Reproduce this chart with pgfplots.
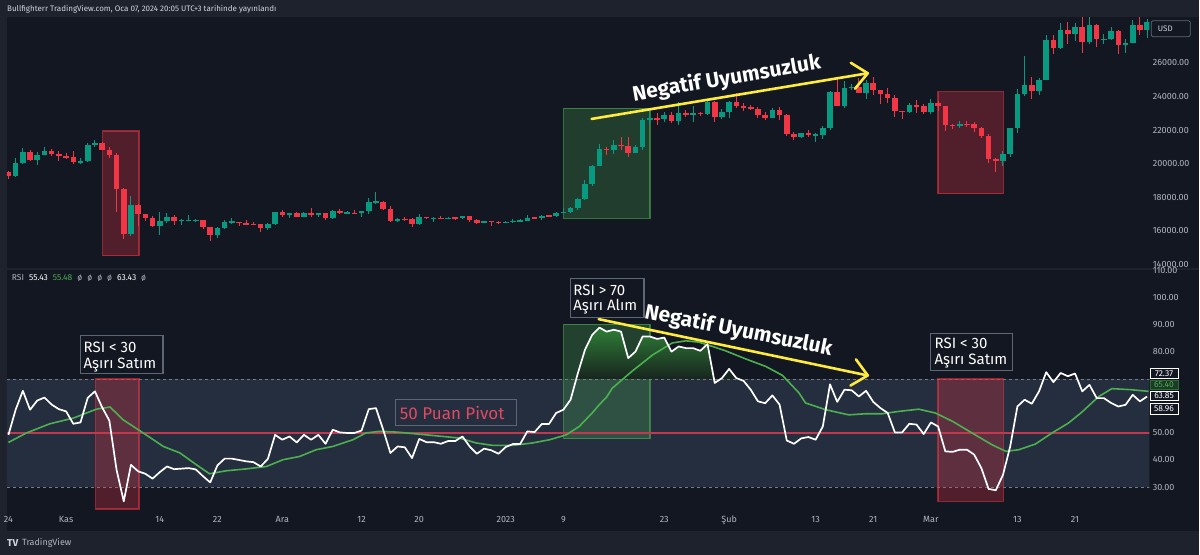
\documentclass[border=0pt]{standalone}
\usepackage{fontspec}
\setmainfont{Fira Sans}
\usepackage{pgfplots}
\usepackage{pgfplotstable}
\pgfplotsset{compat=1.18}

\definecolor{cframe}{HTML}{1E222D}
\definecolor{cbg}{HTML}{131722}
\definecolor{cup}{HTML}{089981}
\definecolor{cdn}{HTML}{F23645}
\definecolor{cband}{HTML}{252E3E}
\definecolor{ctick}{HTML}{B2B5BE}
\definecolor{chdr}{HTML}{D1D4DC}
\definecolor{cma}{HTML}{4CAF50}
\definecolor{cyel}{HTML}{FFEB3B}
\definecolor{cpivot}{HTML}{C2384F}
\definecolor{cboxb}{HTML}{5D6675}
\definecolor{cdash}{HTML}{787B86}
\definecolor{cobtop}{HTML}{2F7D36}
\definecolor{cobbot}{HTML}{17251F}
\definecolor{cpivtxt}{HTML}{E04A63}
\definecolor{cgreenlab}{HTML}{1B3A27}

\pgfplotstableread{
d o h l c
0 19570 19600 19160 19330
1 19330 20400 19260 20080
2 20080 21000 20060 20770
3 20770 20860 20230 20290
4 20290 20740 20000 20600
5 20600 21080 20560 20810
6 20810 20920 20520 20630
7 20630 20830 20240 20490
8 20490 20690 20340 20480
9 20480 20790 20060 20150
10 20150 20380 20050 20210
11 20210 21300 20180 21150
12 21150 21470 21080 21300
13 21300 21370 20890 20900
14 20900 21040 20410 20590
15 20590 20670 17170 18540
16 18540 18590 15590 15880
17 15880 18150 15770 17590
18 17590 17650 16360 17070
19 17070 17080 16660 16810
20 16810 16940 16260 16330
21 16330 17170 15820 16620
22 16620 17100 16550 16900
23 16900 17000 16430 16660
24 16660 16750 16400 16690
25 16690 16980 16620 16700
26 16700 16790 16560 16700
27 16700 16730 16180 16280
28 16280 16290 15480 15780
29 15780 16270 15600 16230
30 16230 16680 16170 16600
31 16600 16800 16470 16600
32 16600 16610 16330 16520
33 16520 16700 16420 16460
34 16460 16590 16400 16440
35 16440 16480 16000 16210
36 16210 16530 16110 16440
37 16440 17200 16430 17170
38 17170 17310 16880 16980
39 16980 17100 16800 17090
40 17090 17150 16880 16890
41 16890 17200 16880 17110
42 17110 17420 16880 16970
43 16970 17100 16910 17090
44 17090 17130 16690 16840
45 16840 17300 16740 17230
46 17230 17350 17060 17130
47 17130 17220 17090 17130
48 17130 17270 17070 17090
49 17090 17240 16880 17210
50 17210 18000 17080 17780
51 17780 18390 17660 17800
52 17800 17850 17280 17360
53 17360 17530 16580 16630
54 16630 16800 16590 16780
55 16780 16860 16660 16740
56 16740 16820 16290 16440
57 16440 17040 16400 16900
58 16900 16910 16740 16820
59 16820 16860 16560 16830
60 16830 16940 16760 16780
61 16780 16860 16770 16840
62 16840 16860 16730 16830
63 16830 16940 16790 16920
64 16920 16960 16610 16700
65 16700 16780 16470 16540
66 16540 16650 16500 16630
67 16630 16650 16330 16600
68 16600 16640 16490 16540
69 16540 16630 16500 16610
70 16610 16760 16550 16670
71 16670 16760 16600 16670
72 16670 16990 16660 16850
73 16850 16880 16750 16830
74 16830 17020 16700 16950
75 16950 16960 16910 16940
76 16940 17150 16910 17120
77 17120 17390 17110 17180
78 17180 17490 17140 17440
79 17440 17990 17310 17940
80 17940 19100 17920 18850
81 18850 19990 18730 19930
82 19930 21260 19900 20950
83 20950 21040 20560 20870
84 20870 21450 20650 21180
85 21180 21620 20880 21130
86 21130 21650 20430 20680
87 20680 21190 20670 21080
88 21080 22750 20860 22680
89 22680 23300 22400 22780
90 22780 23060 22350 22710
91 22710 23140 22540 22930
92 22930 23130 22480 22630
93 22630 23740 22350 23060
94 23060 23260 22850 23010
95 23010 23480 22550 23080
96 23080 23160 22890 23030
97 23030 23930 22980 23740
98 23740 23790 22550 22830
99 22830 23300 22720 23140
100 23140 23800 22780 23730
101 23730 24240 23370 23490
102 23490 23700 23220 23430
103 23430 23560 23270 23330
104 23330 23430 22770 22930
105 22930 23150 22640 22760
106 22760 23360 22750 23260
107 23260 23450 22690 22960
108 22960 22990 21730 21800
109 21800 21920 21480 21630
110 21630 21900 21600 21860
111 21860 22070 21660 21780
112 21780 21890 21370 21790
113 21790 22320 21530 22200
114 22200 24360 22060 24330
115 24330 25250 23520 23520
116 23520 24990 23370 24570
117 24570 24830 24470 24630
118 24630 25180 24280 24280
119 24280 25020 23890 24840
120 24840 25250 24150 24440
121 24440 24460 23620 24190
122 24190 24580 23650 23950
123 23950 24130 22860 23190
124 23190 23210 22720 23160
125 23160 23670 23080 23550
126 23550 23870 23100 23490
127 23490 23590 23030 23150
128 23150 23900 23040 23650
129 23650 23790 23200 23470
130 23470 23480 21980 22360
131 22360 22420 22100 22350
132 22350 22610 22210 22430
133 22430 22590 22260 22410
134 22410 22550 21940 22200
135 22200 22270 21600 21700
136 21700 21830 20090 20360
137 20360 20370 19570 20190
138 20190 20830 19900 20630
139 20630 22190 20460 22160
140 22160 24530 21900 24200
141 24200 26480 24100 24750
142 24750 25230 23930 24380
143 24380 25190 24130 25060
144 25060 27740 25030 27420
145 27420 27720 26620 26970
146 26970 28430 26920 28040
147 28040 28510 27190 27770
148 27770 28470 27380 28180
149 28180 28810 26650 27310
150 27310 28790 27200 28330
151 28330 28400 27020 27480
152 27480 27810 27180 27490
153 27490 28190 27440 27990
154 27990 28040 26610 27140
155 27140 27510 26660 27270
156 27270 28640 27250 28350
157 28350 29170 27720 28030
158 28030 28660 27570 28480
}\candles

\pgfplotstableread{
d r
0 49.3
1 58.6
2 65.6
3 58.6
4 62.0
5 63.1
6 60.5
7 58.8
8 58.0
9 53.4
10 53.9
11 63.0
12 65.4
13 59.5
14 54.6
15 36.4
16 24.7
17 38.2
18 35.8
19 34.9
20 33.1
21 35.5
22 37.6
23 36.6
24 36.8
25 37.0
26 36.5
27 34.0
28 31.7
29 38.0
30 40.5
31 40.5
32 40.0
33 39.5
34 39.2
35 37.6
36 40.4
37 49.3
38 47.5
39 48.7
40 46.5
41 49.3
42 47.5
43 49.3
44 46.0
45 51.2
46 50.2
47 50.0
48 50.0
49 50.9
50 58.8
51 59.2
52 51.2
53 42.6
54 45.0
55 44.7
56 40.7
57 47.8
58 46.6
59 46.6
60 46.0
61 47.0
62 47.0
63 48.7
64 45.0
65 42.3
66 44.2
67 43.6
68 42.3
69 44.8
70 45.9
71 45.9
72 50.6
73 50.3
74 53.3
75 53.3
76 57.4
77 58.6
78 62.3
79 72.0
80 80.8
81 86.3
82 89.0
83 87.5
84 88.2
85 87.5
86 77.7
87 80.1
88 85.7
89 85.7
90 84.8
91 85.3
92 80.1
93 82.0
94 81.4
95 81.4
96 80.4
97 82.9
98 68.5
99 70.3
100 73.7
101 70.3
102 69.3
103 66.0
104 61.7
105 61.0
106 63.9
107 60.5
108 47.2
109 46.0
110 48.0
111 48.5
112 47.5
113 52.4
114 68.0
115 61.5
116 66.0
117 65.8
118 63.5
119 65.6
120 61.5
121 59.2
122 57.4
123 50.2
124 50.2
125 53.4
126 53.1
127 49.6
128 53.9
129 52.4
130 43.2
131 43.0
132 43.8
133 43.8
134 42.0
135 37.0
136 29.3
137 28.8
138 34.5
139 45.0
140 59.8
141 62.3
142 60.8
143 65.4
144 72.5
145 68.8
146 72.2
147 71.0
148 72.0
149 65.4
150 67.8
151 62.9
152 62.9
153 61.1
154 59.8
155 60.4
156 64.1
157 61.7
158 63.5
}\rsi

\pgfplotstableread{
d m
0 46.5
2.5 50.0
5.75 53.4
9 55.5
12.2 58.8
14.1 59.6
15.9 54.9
18.7 50.0
21.5 45.0
23.8 42.6
26.1 38.2
27.9 34.9
30.2 36.0
33 36.7
35.8 37.6
38.1 40.1
40.4 41.3
42.7 43.8
45 45.0
47.8 47.5
49.6 50.0
51.5 50.6
54 50.3
58 49.3
62.6 48.1
64.9 46.3
67.2 45.4
70 45.4
72.7 46.3
75.1 47.5
77.4 49.3
79.2 52.4
81 57.4
82 60.5
83 63.3
83.8 66.6
86.6 73.0
89.4 78.9
92.1 83.3
94 84.1
95.8 83.6
97.7 82.0
99.5 80.4
102.3 77.4
105.1 74.6
107.4 71.3
109.7 64.8
110.6 61.1
113.4 58.6
116.6 56.7
118.9 57.1
121.2 57.1
123.6 58.0
126.3 58.8
128.6 57.4
131 54.3
133.7 50.0
136.5 45.6
138.4 43.2
140.2 43.8
142.5 45.9
144.8 50.0
147.1 53.7
148.9 57.6
150.8 62.3
151.3 63.5
153.1 66.4
155.8 66.0
158.2 65.4
}\rsima

\pgfplotstableread{
d r
78.8 70
79 72.0
80 80.8
81 86.3
82 89.0
83 87.5
84 88.2
85 87.5
86 77.7
87 80.1
88 85.7
89 85.7
90 84.8
91 85.3
92 80.1
93 82.0
94 81.4
95 81.4
96 80.4
97 82.9
97.9 70
}\obA

\pgfplotstableread{
d r
98.9 70
99 70.3
100 73.7
101 70.3
101.3 70
}\obB

\pgfplotsset{
  panel/.style={scale only axis, width=1143pt, xmin=-0.2, xmax=158.3,
    anchor=north west, axis line style={draw=none}, major tick length=0pt,
    ytick pos=right, yticklabel pos=right, scaled y ticks=false,
    tick label style={font=\fontsize{9}{10}\selectfont, text=ctick},
    /pgf/number format/.cd, fixed, fixed zerofill, precision=2, 1000 sep={},
    assume math mode=true},
  candle/.style n args={3}{draw=none, mark=none, forget plot,
    restrict expr to domain={\thisrow{c}-\thisrow{o}}{#1},
    error bars/.cd, y dir=both, y explicit, error mark=none,
    error bar style={line width=#2, draw=#3, solid}},
}

\begin{document}
\begin{tikzpicture}
\fill[cframe] (0pt,0pt) rectangle (1200pt,-555pt);
\fill[cbg] (7pt,-17.5pt) rectangle (1200pt,-531pt);
\draw[cframe, line width=1.5pt] (7pt,-269pt) -- (1200pt,-269pt);
\node[anchor=base west, inner sep=0, text=chdr, font=\fontsize{8}{9}\selectfont] at (7pt,-12pt) {Bullfighterr TradingView.com, Oca 07, 2024 20:05 UTC+3 tarihinde yayınlandı};

% ---------------- price panel
\begin{axis}[panel, at={(7pt,-18pt)}, height=250pt,
  ymin=13851, ymax=28739, xtick=\empty,
  ytick={14000,16000,...,26000}, yticklabel style={yshift=1pt}]
\fill[cdn, fill opacity=.28] (axis cs:13.06,14584) rectangle (axis cs:18.13,22010);
\draw[cdn, draw opacity=.55, line width=1.2pt] (axis cs:13.06,14584) rectangle (axis cs:18.13,22010);
\fill[cma, fill opacity=.25] (axis cs:77.03,16811) rectangle (axis cs:89.01,23362);
\draw[cma, draw opacity=.6, line width=1.2pt] (axis cs:77.03,16811) rectangle (axis cs:89.01,23362);
\fill[cdn, fill opacity=.28] (axis cs:128.97,18258) rectangle (axis cs:138.02,24350);
\draw[cdn, draw opacity=.55, line width=1.2pt] (axis cs:128.97,18258) rectangle (axis cs:138.02,24350);
% wicks
\addplot[candle={0:100000}{1pt}{cup}]
  table[x=d, y expr={(\thisrow{h}+\thisrow{l})/2}, y error expr={(\thisrow{h}-\thisrow{l})/2}] {\candles};
\addplot[candle={-100000:-0.5}{1pt}{cdn}]
  table[x=d, y expr={(\thisrow{h}+\thisrow{l})/2}, y error expr={(\thisrow{h}-\thisrow{l})/2}] {\candles};
% bodies
\addplot[candle={0:100000}{5.6pt}{cup}]
  table[x=d, y expr={(\thisrow{o}+\thisrow{c})/2}, y error expr={max(abs(\thisrow{c}-\thisrow{o})/2,25)}] {\candles};
\addplot[candle={-100000:-0.5}{5.6pt}{cdn}]
  table[x=d, y expr={(\thisrow{o}+\thisrow{c})/2}, y error expr={max(abs(\thisrow{c}-\thisrow{o})/2,25)}] {\candles};
\end{axis}

% ---------------- RSI panel
\begin{axis}[panel, at={(7pt,-270pt)}, height=242pt,
  ymin=20.87, ymax=110.36, ytick={30,40,50,80,90,100,110},
  xtick={0,8,21,29,38,49,57,69,77,91,100,112,120,128,140,148},
  xticklabels={24,Kas,14,22,Ara,12,20,2023,9,23,Şub,13,21,Mar,13,21},
  xticklabel style={yshift=-1pt}]
\fill[cband] (axis cs:-1,30) rectangle (axis cs:160,70);
\draw[cdash, line width=0.8pt, dash pattern=on 3pt off 3pt] (axis cs:-1,70) -- (axis cs:160,70);
\draw[cdash, line width=0.8pt, dash pattern=on 3pt off 3pt] (axis cs:-1,30) -- (axis cs:160,30);
\fill[cdn, fill opacity=.28] (axis cs:12.09,21.86) rectangle (axis cs:18.13,70);
\draw[cdn, draw opacity=.55, line width=1.2pt] (axis cs:12.09,21.86) rectangle (axis cs:18.13,70);
\fill[cma, fill opacity=.28] (axis cs:77.03,47.86) rectangle (axis cs:89.01,90.28);
\draw[cma, draw opacity=.6, line width=1.2pt] (axis cs:77.03,47.86) rectangle (axis cs:89.01,90.28);
\fill[cdn, fill opacity=.28] (axis cs:128.97,24.67) rectangle (axis cs:138.02,70);
\draw[cdn, draw opacity=.55, line width=1.2pt] (axis cs:128.97,24.67) rectangle (axis cs:138.02,70);
\draw[cpivot, line width=1.8pt] (axis cs:-1,50) -- (axis cs:160,50);
\addplot[draw=none, top color=cobtop, bottom color=cobbot] table[x=d, y=r] {\obA};
\addplot[draw=none, fill=cobbot] table[x=d, y=r] {\obB};
\addplot[cma, line width=1.6pt, mark=none] table[x=d, y=m] {\rsima};
\addplot[white, line width=1.7pt, mark=none, line join=round] table[x=d, y=r] {\rsi};
\end{axis}

% ---------------- annotations
\node[rotate=9.7, text=white, font=\bfseries\fontsize{21}{24}\selectfont, inner sep=0] at (727pt,-79pt) {Negatif Uyumsuzluk};
\draw[cyel, line width=2.6pt, line cap=round] (592pt,-119pt) -- (868.3pt,-73.3pt);
\draw[cyel, line width=2.6pt, line cap=round, line join=round] (851.3pt,-62.8pt) -- (868.3pt,-73.3pt) -- (855.6pt,-88.7pt);

\node[rotate=-11.3, text=white, font=\bfseries\fontsize{21}{24}\selectfont, inner sep=0] at (739pt,-331pt) {Negatif Uyumsuzluk};
\draw[cyel, line width=2.6pt, line cap=round] (599pt,-319.3pt) -- (868.3pt,-375.7pt);
\draw[cyel, line width=2.6pt, line cap=round, line join=round] (856.5pt,-359.6pt) -- (868.3pt,-375.7pt) -- (851pt,-385.8pt);

\begin{scope}[font=\fontsize{15}{17}\selectfont]
\draw[cboxb, line width=1.2pt, fill=cbg] (80.7pt,-335.7pt) rectangle (163pt,-374pt);
\node[anchor=base west, inner sep=0, text=white] at (83.5pt,-352.3pt) {RSI < 30};
\node[anchor=base west, inner sep=0, text=white] at (83.5pt,-368.3pt) {Aşırı Satım};
\draw[cboxb, line width=1.2pt, fill=cbg] (570.7pt,-279pt) rectangle (644.3pt,-317.3pt);
\node[anchor=base west, inner sep=0, text=white] at (573.5pt,-295.7pt) {RSI > 70};
\node[anchor=base west, inner sep=0, text=white] at (573.5pt,-311pt) {Aşırı Alım};
\draw[cboxb, line width=1.2pt, fill=cbg] (931pt,-333.3pt) rectangle (1013.3pt,-371pt);
\node[anchor=base west, inner sep=0, text=white] at (935pt,-349pt) {RSI < 30};
\node[anchor=base west, inner sep=0, text=white] at (935pt,-365pt) {Aşırı Satım};
\end{scope}
\draw[cboxb, line width=1.2pt, fill=cband] (396pt,-400pt) rectangle (517pt,-426pt);
\node[anchor=base west, inner sep=0, text=cpivtxt, font=\fontsize{17}{19}\selectfont] at (400pt,-419.5pt) {50 Puan Pivot};

% legend of RSI
\node[anchor=base west, inner sep=0, font=\fontsize{8.5}{9}\selectfont] at (11.7pt,-281pt)
  {\textcolor{ctick}{RSI}\hspace{5pt}\textcolor{white}{55.43}\hspace{5pt}\textcolor{cma}{55.48}\hspace{5pt}\textcolor{ctick}{ø\hspace{5pt}ø\hspace{5pt}ø\hspace{5pt}ø}\hspace{5pt}\textcolor{white}{63.43}\hspace{5pt}\textcolor{ctick}{ø}};

% USD box
\draw[cboxb, rounded corners=2pt, fill=cbg, line width=0.8pt] (1152pt,-20.7pt) rectangle (1191pt,-36.7pt);
\node[text=chdr, font=\fontsize{8}{9}\selectfont] at (1166pt,-28.7pt) {USD};

% value labels
\begin{scope}[font=\fontsize{8.5}{9}\selectfont]
\draw[white, fill=cbg, line width=0.8pt] (1150.7pt,-369pt) rectangle (1179pt,-378.3pt);
\node[text=white] at (1164.8pt,-373.6pt) {72.37};
\draw[cma!60!black, fill=cgreenlab, line width=0.8pt] (1150.7pt,-380.5pt) rectangle (1179pt,-389.5pt);
\node[text=cma] at (1164.8pt,-385pt) {65.40};
\draw[white, fill=cbg, line width=0.8pt] (1150.7pt,-391.5pt) rectangle (1179pt,-400.8pt);
\node[text=white] at (1164.8pt,-396.1pt) {63.85};
\draw[white, fill=cbg, line width=0.8pt] (1150.7pt,-404pt) rectangle (1179pt,-414.5pt);
\node[text=white] at (1164.8pt,-409.2pt) {58.96};
\end{scope}

% footer
\node[anchor=west, inner sep=0, text=chdr, font=\bfseries\fontsize{10}{11}\selectfont] at (7pt,-543pt) {TV};
\node[anchor=west, inner sep=0, text=ctick, font=\fontsize{9}{10}\selectfont] at (22pt,-543pt) {TradingView};
\end{tikzpicture}
\end{document}
